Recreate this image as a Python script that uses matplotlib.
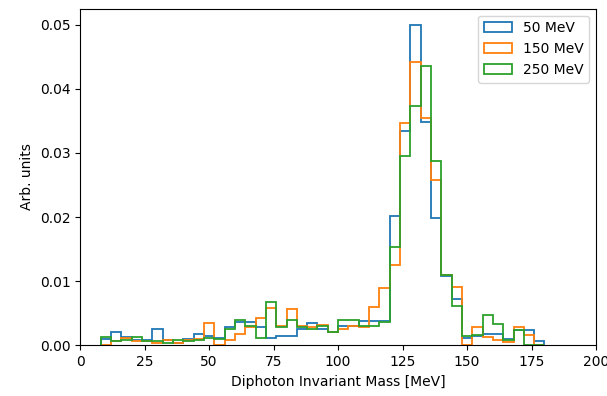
import numpy as np
import matplotlib.pyplot as plt

# bin edges (MeV)
bin_lo = 8
bin_hi = 180
bin_width = 4

labels = ["50 MeV", "150 MeV", "250 MeV"]

# normalised bin contents, one per 4 MeV bin from 8 to 180 MeV
vals_50 = [
    0.0010, 0.0020, 0.0013, 0.0008, 0.0008, 0.0026, 0.0008, 0.0004, 0.0010, 0.0018,
    0.0015, 0.0012, 0.0028, 0.0036, 0.0036, 0.0028, 0.0012, 0.0015, 0.0015, 0.0025,
    0.0035, 0.0025, 0.0021, 0.0030, 0.0030, 0.0038, 0.0038, 0.0038, 0.0201, 0.0334,
    0.0500, 0.0348, 0.0198, 0.0108, 0.0072, 0.0012, 0.0014, 0.0018, 0.0018, 0.0010,
    0.0024, 0.0024, 0.0006,
]
vals_150 = [
    0.0000, 0.0006, 0.0012, 0.0006, 0.0006, 0.0003, 0.0008, 0.0003, 0.0008, 0.0010,
    0.0035, 0.0000, 0.0008, 0.0018, 0.0028, 0.0043, 0.0058, 0.0030, 0.0056, 0.0030,
    0.0028, 0.0032, 0.0020, 0.0025, 0.0030, 0.0028, 0.0059, 0.0090, 0.0125, 0.0346,
    0.0442, 0.0355, 0.0258, 0.0110, 0.0091, 0.0000, 0.0028, 0.0013, 0.0008, 0.0005,
    0.0028, 0.0016, 0.0000,
]
vals_250 = [
    0.0013, 0.0006, 0.0008, 0.0013, 0.0006, 0.0006, 0.0003, 0.0008, 0.0006, 0.0008,
    0.0012, 0.0010, 0.0025, 0.0040, 0.0030, 0.0012, 0.0068, 0.0028, 0.0040, 0.0028,
    0.0025, 0.0030, 0.0020, 0.0040, 0.0040, 0.0030, 0.0030, 0.0037, 0.0154, 0.0296,
    0.0374, 0.0436, 0.0288, 0.0110, 0.0061, 0.0014, 0.0016, 0.0047, 0.0034, 0.0008,
    0.0024, 0.0000, 0.0000,
]

edges = np.arange(bin_lo, bin_hi + bin_width, bin_width)
centres = edges[:-1] + bin_width / 2

fig = plt.figure(figsize=(6.07, 3.96), dpi=100)
ax = fig.add_axes([0.132, 0.128, 0.850, 0.850])

for vals, lab in zip([vals_50, vals_150, vals_250], labels):
    ax.hist(centres, bins=edges, weights=vals, histtype="step", linewidth=1.3, label=lab)

ax.set_xlim(0, 200)
ax.set_xlabel("Diphoton Invariant Mass [MeV]")
ax.set_ylabel("Arb. units")
ax.legend(loc="upper right")

fig.savefig("out.png")
